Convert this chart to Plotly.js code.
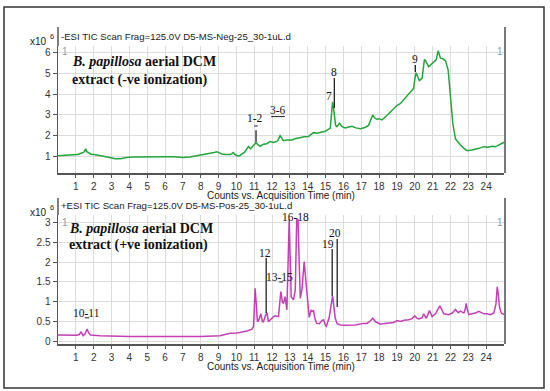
<!DOCTYPE html>
<html><head><meta charset="utf-8">
<script src="https://cdn.plot.ly/plotly-3.0.1.min.js"></script>
<style>html,body{margin:0;padding:0;background:#fff}#chart{width:550px;height:391px}</style>
</head><body><div id="chart"></div>
<script>
// Negative ionization TIC (x10^6 counts) vs time (min)
const negTime = [0,0.3,0.6,0.9,1.1,1.22,1.35,1.45,1.52,1.56,1.6,1.7,1.85,2.0,2.16,2.4,2.7,2.9,3.2,3.5,3.85,4.2,4.6,4.97,5.4,5.8,6.09,6.5,7.02,7.4,7.7,7.96,8.2,8.52,8.75,8.9,9.0,9.18,9.4,9.65,9.75,9.83,9.9,10.02,10.2,10.3,10.45,10.58,10.67,10.8,10.96,11.05,11.1,11.18,11.24,11.33,11.52,11.7,11.89,12.05,12.17,12.3,12.45,12.55,12.64,12.8,13.0,13.11,13.3,13.6,13.8,14.04,14.2,14.32,14.51,14.7,14.98,15.1,15.26,15.33,15.39,15.45,15.5,15.56,15.64,15.78,15.9,16.1,16.3,16.48,16.7,16.95,17.2,17.41,17.55,17.64,17.75,17.88,18.0,18.16,18.4,18.63,18.8,19.0,19.2,19.47,19.6,19.75,19.94,20.0,20.07,20.15,20.26,20.41,20.5,20.54,20.6,20.78,20.9,21.06,21.2,21.31,21.38,21.44,21.55,21.72,21.87,22.0,22.13,22.28,22.4,22.56,22.75,22.94,23.2,23.4,23.6,23.87,24.1,24.34,24.5,24.62,24.8,25.0];
const negCounts = [1.05,1.06,1.07,1.08,1.1,1.14,1.18,1.22,1.32,1.38,1.25,1.18,1.12,1.1,1.09,1.05,1.0,0.97,0.9,0.9,0.96,0.98,0.99,1.0,1.0,1.01,1.0,1.0,0.96,0.99,1.03,1.07,1.1,1.16,1.2,1.24,1.2,1.13,1.1,1.1,1.15,1.2,1.12,1.05,1.05,1.13,1.2,1.35,1.48,1.38,1.52,1.58,1.67,1.6,1.54,1.5,1.6,1.62,1.72,1.68,1.7,1.75,2.0,1.85,1.77,1.8,1.82,1.8,1.86,1.92,1.95,1.97,2.05,2.15,2.12,2.15,2.22,2.28,2.36,3.0,3.63,3.3,2.76,2.5,2.44,2.6,2.45,2.38,2.42,2.46,2.38,2.34,2.4,2.5,2.8,3.0,2.85,2.79,2.82,2.76,2.95,3.15,3.25,3.45,3.55,3.8,3.95,4.1,4.28,4.7,5.02,4.85,4.65,4.75,5.3,5.66,5.6,5.3,5.4,5.55,5.65,6.07,5.85,5.72,5.7,5.6,5.15,4.0,2.6,1.85,1.7,1.56,1.4,1.29,1.32,1.35,1.4,1.48,1.45,1.5,1.48,1.52,1.6,1.69];

// Positive ionization TIC (x10^6 counts) vs time (min)
const posTime = [0,0.5,1.04,1.2,1.28,1.35,1.41,1.52,1.63,1.72,1.82,2.35,3.28,4,5,6,7,8,9.08,9.4,9.65,10.0,10.2,10.58,10.86,10.96,11.05,11.12,11.18,11.26,11.37,11.46,11.52,11.62,11.71,11.8,11.89,12.05,12.17,12.36,12.49,12.58,12.64,12.73,12.83,12.92,12.96,13.02,13.07,13.2,13.3,13.38,13.45,13.52,13.58,13.67,13.76,13.8,13.9,13.95,14.08,14.19,14.25,14.32,14.42,14.51,14.65,14.79,14.89,14.98,15.04,15.2,15.26,15.39,15.46,15.54,15.65,15.82,16.1,16.38,16.66,17.13,17.32,17.5,17.64,17.8,18.07,18.3,18.54,18.82,19.0,19.19,19.4,19.66,19.85,20.0,20.1,20.22,20.4,20.5,20.6,20.65,20.82,20.97,21.16,21.3,21.4,21.5,21.62,21.9,22.1,22.28,22.43,22.56,22.75,22.82,22.88,22.95,23.03,23.2,23.4,23.59,23.87,24.05,24.24,24.43,24.55,24.62,24.68,24.75,24.85,25.0];
const posCounts = [0.17,0.17,0.16,0.18,0.25,0.2,0.15,0.2,0.32,0.22,0.17,0.15,0.13,0.13,0.13,0.13,0.13,0.13,0.15,0.18,0.21,0.22,0.23,0.27,0.31,0.38,1.34,0.9,0.5,0.55,0.7,0.5,0.5,0.65,0.73,0.5,0.55,0.62,0.65,0.63,1.26,1.0,0.96,1.13,0.8,3.06,3.08,2.0,1.13,1.05,1.3,3.06,3.08,2.0,1.09,1.3,1.99,2.01,1.5,1.22,0.61,0.8,0.76,0.78,0.55,0.46,0.45,0.53,0.55,0.42,0.39,0.6,0.76,1.15,0.9,0.59,0.45,0.42,0.41,0.41,0.42,0.46,0.46,0.52,0.59,0.5,0.44,0.46,0.47,0.48,0.53,0.51,0.54,0.55,0.58,0.65,0.6,0.57,0.6,0.7,0.62,0.59,0.78,0.63,0.7,0.8,0.9,0.82,0.7,0.68,0.72,0.81,0.73,0.77,0.72,0.8,0.96,0.8,0.68,0.7,0.72,0.76,0.7,0.7,0.68,0.72,0.95,1.38,1.2,0.86,0.72,0.68];

const xTicks = [1,2,3,4,5,6,7,8,9,10,11,12,13,14,15,16,17,18,19,20,21,22,23,24];
const negYTicks = [1,2,3,4,5,6];
const posYTicks = [0,0.5,1,1.5,2,2.5,3];
const posYTickText = ['0','0.5','1','1.5','2','2.5','3'];

// Peak labels: [label, x, y]
const negPeakLabels = [['1-2',11.05,2.85],['3-6',12.34,3.24],['7',15.21,3.91],['8',15.49,5.06],['9',20.03,5.68]];
const posPeakLabels = [['10-11',1.62,0.72],['12',11.61,2.23],['13-15',12.4,1.63],['16-18',13.3,3.13],['19',15.15,2.45],['20',15.54,2.73]];
// Peak marker lines: [x, y0, y1]
const negMarkers = [[11.1,1.70,2.27],[15.49,3.33,4.77],[20.03,5.06,5.39]];
const posMarkers = [[11.67,0.72,2.10],[15.37,1.15,2.33],[15.65,0.87,2.58]];

const W = 550, H = 391;
const px = v => v / W;
const py = v => (H - v) / H;
const xDom = [px(58), px(504)];
const negDom = [py(173), py(46)];
const posDom = [py(344), py(215)];

const tickFont = {family: 'Liberation Sans, Arial', size: 10, color: '#333'};
const axisX = (anchor) => ({
  domain: xDom, range: [0, 25], anchor: anchor,
  tickvals: xTicks, ticks: 'outside', ticklen: 3, tickcolor: '#555',
  showgrid: true, gridcolor: '#dcdcdc', gridwidth: 1,
  showline: true, linecolor: '#555', linewidth: 1.5,
  zeroline: false, tickfont: tickFont
});
const axisY = (anchor, dom, rng, tv, tt) => {
  const a = {
    domain: dom, range: rng, anchor: anchor,
    tickvals: tv, ticks: 'outside', ticklen: 4, tickcolor: '#555',
    showgrid: true, gridcolor: '#dcdcdc', gridwidth: 1,
    showline: true, linecolor: '#555', linewidth: 1.5,
    zeroline: false, tickfont: tickFont
  };
  if (tt) a.ticktext = tt;
  return a;
};

const traces = [
  {x: negTime, y: negCounts, type: 'scatter', mode: 'lines', xaxis: 'x', yaxis: 'y',
   line: {color: '#22a53a', width: 1.5}, hoverinfo: 'skip'},
  {x: posTime, y: posCounts, type: 'scatter', mode: 'lines', xaxis: 'x2', yaxis: 'y2',
   line: {color: '#c23fb5', width: 1.5}, hoverinfo: 'skip'}
];

const sans = {family: 'Liberation Sans, Arial', size: 10, color: '#222'};
const sup = {family: 'Liberation Sans, Arial', size: 7.5, color: '#222'};
const head = {family: 'Liberation Sans, Arial', size: 9.6, color: '#222'};
const serif = {family: 'Liberation Serif, Times New Roman', size: 14, color: '#111'};
const pk = {family: 'Liberation Serif, Times New Roman', size: 11.5, color: '#111'};
const gray = {family: 'Liberation Sans, Arial', size: 10, color: '#999'};

const ann = [];
function paperText(text, x, y, font, xanchor) {
  ann.push({text: text, xref: 'paper', yref: 'paper', x: px(x), y: py(y), xanchor: xanchor || 'left', yanchor: 'middle', showarrow: false, font: font, borderpad: 0});
}
// headers
paperText('-ESI TIC Scan Frag=125.0V D5-MS-Neg-25_30-1uL.d', 60, 36, head);
paperText('+ESI TIC Scan Frag=125.0V D5-MS-Pos-25_30-1uL.d', 60, 206, head);
paperText('x10', 29, 41, sans);
paperText('6', 49, 36, sup);
paperText('x10', 29, 212, sans);
paperText('6', 49, 207, sup);
paperText('1', 61, 51, gray);
paperText('1', 496, 51, gray);
paperText('1', 61, 222, gray);
paperText('1', 496, 222, gray);
paperText('Counts vs. Acquisition Time (min)', 281, 195, sans, 'center');
paperText('Counts vs. Acquisition Time (min)', 281, 366, sans, 'center');
// sample descriptions
paperText('<b><i>B. papillosa</i> aerial DCM</b>', 71, 62, serif);
paperText('<b>extract (-ve ionization)</b>', 71, 80, serif);
paperText('<b><i>B. papillosa</i> aerial DCM</b>', 68, 228, serif);
paperText('<b>extract (+ve ionization)</b>', 68, 245, serif);

negPeakLabels.forEach(p => ann.push({text: p[0], x: p[1], y: p[2], xref: 'x', yref: 'y', showarrow: false, font: pk, xanchor: 'center', yanchor: 'middle', borderpad: 0}));
posPeakLabels.forEach(p => ann.push({text: p[0], x: p[1], y: p[2], xref: 'x2', yref: 'y2', showarrow: false, font: pk, xanchor: 'center', yanchor: 'middle', borderpad: 0}));

const shapes = [];
// outer frame
shapes.push({type: 'rect', xref: 'paper', yref: 'paper', x0: px(4), x1: px(544), y0: py(388), y1: py(7), line: {color: '#333', width: 1.5}});
// left axis extensions & right axis lines
shapes.push({type: 'line', xref: 'paper', yref: 'paper', x0: px(58), x1: px(58), y0: py(46), y1: py(27), line: {color: '#555', width: 1.5}});
shapes.push({type: 'line', xref: 'paper', yref: 'paper', x0: px(58), x1: px(58), y0: py(215), y1: py(198), line: {color: '#555', width: 1.5}});
shapes.push({type: 'line', xref: 'paper', yref: 'paper', x0: px(505), x1: px(505), y0: py(173), y1: py(27), line: {color: '#777', width: 2}});
shapes.push({type: 'line', xref: 'paper', yref: 'paper', x0: px(505), x1: px(505), y0: py(344), y1: py(198), line: {color: '#777', width: 2}});
// peak markers
negMarkers.forEach(m => shapes.push({type: 'line', xref: 'x', yref: 'y', x0: m[0], x1: m[0], y0: m[1], y1: m[2], line: {color: '#222', width: 1.3}}));
posMarkers.forEach(m => shapes.push({type: 'line', xref: 'x2', yref: 'y2', x0: m[0], x1: m[0], y0: m[1], y1: m[2], line: {color: '#222', width: 1.3}}));
// small dashes / underlines under grouped labels
shapes.push({type: 'line', xref: 'x', yref: 'y', x0: 11.0, x1: 11.2, y0: 2.47, y1: 2.47, line: {color: '#222', width: 1}});
shapes.push({type: 'line', xref: 'x', yref: 'y', x0: 11.95, x1: 12.72, y0: 2.92, y1: 2.92, line: {color: '#222', width: 1}});
shapes.push({type: 'line', xref: 'x2', yref: 'y2', x0: 1.5, x1: 1.75, y0: 0.6, y1: 0.6, line: {color: '#222', width: 1}});
shapes.push({type: 'line', xref: 'x2', yref: 'y2', x0: 12.4, x1: 12.62, y0: 1.5, y1: 1.5, line: {color: '#222', width: 1}});

const layout = {
  width: W, height: H, margin: {l: 0, r: 0, t: 0, b: 0},
  paper_bgcolor: '#fff', plot_bgcolor: '#fff', showlegend: false,
  xaxis: axisX('y'),
  yaxis: axisY('x', negDom, [0.219, 6.30], negYTicks, null),
  xaxis2: axisX('y2'),
  yaxis2: axisY('x2', posDom, [-0.058, 3.183], posYTicks, posYTickText),
  annotations: ann, shapes: shapes
};
Plotly.newPlot('chart', traces, layout, {displayModeBar: false, staticPlot: true});
</script></body></html>
